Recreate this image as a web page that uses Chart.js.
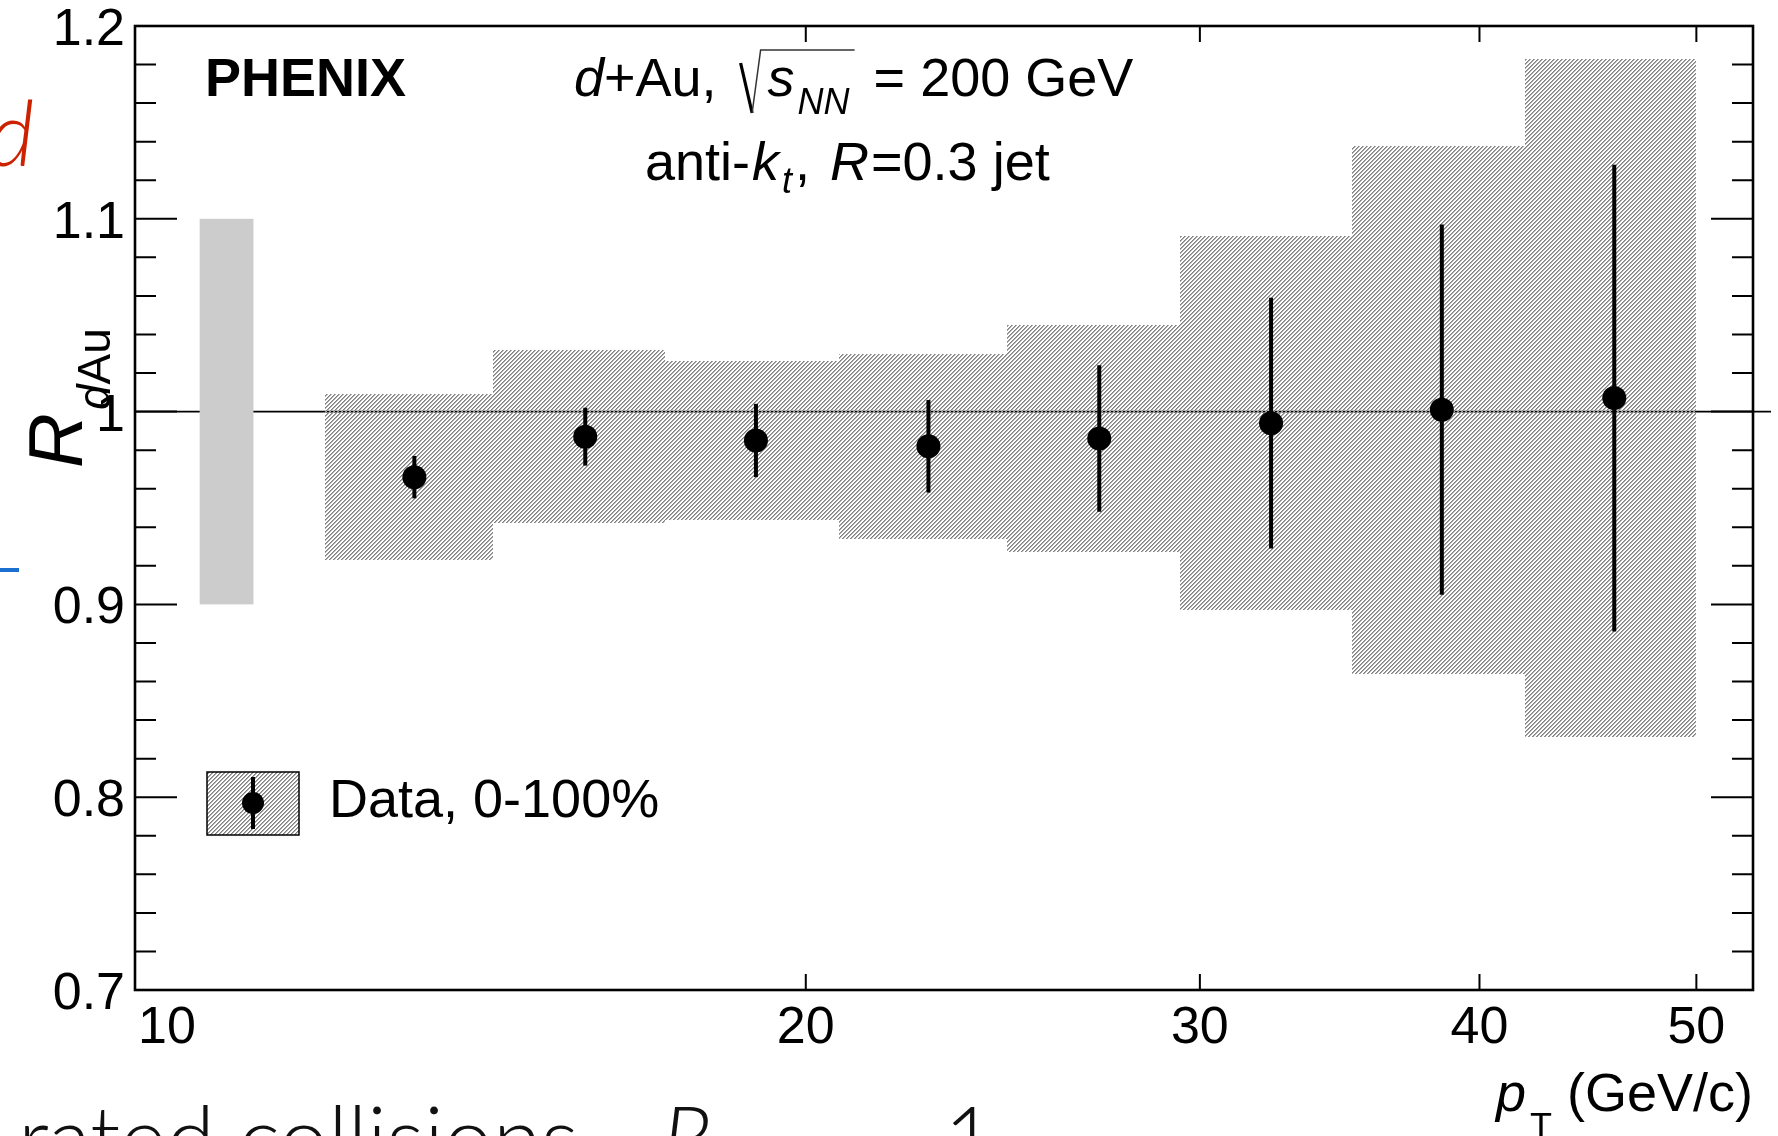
<!DOCTYPE html>
<html>
<head>
<meta charset="utf-8">
<script src="https://cdn.jsdelivr.net/npm/chart.js@4.4.1/dist/chart.umd.min.js"></script>
<style>
  html, body { margin: 0; padding: 0; background: #fff; }
  #wrap { width: 1778px; height: 1136px; position: relative; overflow: hidden; }
</style>
</head>
<body>
<div id="wrap"><canvas id="rdau" width="1778" height="1136"></canvas></div>
<script>
// PHENIX d+Au jet R_dAu, 0-100% centrality
const binEdges = [12.2, 14.5, 17.3, 20.7, 24.6, 29.4, 35.1, 41.9, 50.0];
const ptCenters = [13.37, 15.94, 19.0, 22.69, 27.05, 32.28, 38.48, 45.95];
const rdau = [0.966, 0.987, 0.985, 0.982, 0.986, 0.994, 1.001, 1.007];
const statErr = [0.011, 0.015, 0.019, 0.024, 0.038, 0.065, 0.096, 0.121];
const sysErr = [0.043, 0.045, 0.041, 0.048, 0.059, 0.097, 0.137, 0.176];

// global normalisation uncertainty box drawn at unity
const normBoxPt = [10.72, 11.33];
const normErr = 0.1;

const yMajor = [0.7, 0.8, 0.9, 1.0, 1.1, 1.2];
const yTickLabels = ["0.7", "0.8", "0.9", "1", "1.1", "1.2"];
const xMajor = [10, 20, 30, 40, 50];
const xTickLabels = ["10", "20", "30", "40", "50"];

const FONT = "'Liberation Sans', Arial, Helvetica, sans-serif";
const SLIDE_FONT = "Lato, 'Liberation Sans', sans-serif";

// diagonal "////" hatch, 4 px period, built pixel by pixel so it stays crisp
function makeHatch(ctx) {
  const c = document.createElement("canvas");
  c.width = 4;
  c.height = 4;
  const g = c.getContext("2d");
  const img = g.createImageData(4, 4);
  const shade = [128, 172, 250, 255];
  for (let y = 0; y < 4; y++) {
    for (let x = 0; x < 4; x++) {
      const v = shade[(x + y) % 4];
      const p = (y * 4 + x) * 4;
      img.data[p] = img.data[p + 1] = img.data[p + 2] = v;
      img.data[p + 3] = v >= 250 ? 0 : 255;
    }
  }
  g.putImageData(img, 0, 0);
  return ctx.createPattern(c, "repeat");
}

// draws a list of text runs left to right, returns end x
function drawRuns(ctx, x, y, runs) {
  runs.forEach((r) => {
    ctx.font = r.font;
    if (r.gap) x += r.gap;
    ctx.fillText(r.t, x, y + (r.dy || 0));
    x += ctx.measureText(r.t).width;
  });
  return x;
}

const backgroundPlugin = {
  id: "background",
  beforeDatasetsDraw(chart) {
    const { ctx, chartArea: a, scales } = chart;
    const xs = scales.x, ys = scales.y;
    const hatch = makeHatch(ctx);
    ctx.save();

    // unity line, runs a little past the right frame
    const y1 = ys.getPixelForValue(1.0);
    ctx.strokeStyle = "#000";
    ctx.lineWidth = 1.6;
    ctx.beginPath();
    ctx.moveTo(a.left, y1);
    ctx.lineTo(a.right + 18, y1);
    ctx.stroke();

    // normalisation box
    ctx.fillStyle = "#cccccc";
    const nx0 = xs.getPixelForValue(normBoxPt[0]);
    const nx1 = xs.getPixelForValue(normBoxPt[1]);
    const ny0 = ys.getPixelForValue(1 + normErr);
    const ny1 = ys.getPixelForValue(1 - normErr);
    ctx.fillRect(nx0, ny0, nx1 - nx0, ny1 - ny0);

    // systematic boxes
    ctx.fillStyle = hatch;
    rdau.forEach((v, i) => {
      const bx0 = Math.round(xs.getPixelForValue(binEdges[i]));
      const bx1 = Math.round(xs.getPixelForValue(binEdges[i + 1]));
      const by0 = Math.round(ys.getPixelForValue(v + sysErr[i]));
      const by1 = Math.round(ys.getPixelForValue(v - sysErr[i]));
      ctx.fillRect(bx0, by0, bx1 - bx0, by1 - by0);
    });

    // statistical error bars
    ctx.strokeStyle = "#000";
    ctx.lineWidth = 4;
    rdau.forEach((v, i) => {
      const px = xs.getPixelForValue(ptCenters[i]);
      ctx.beginPath();
      ctx.moveTo(px, ys.getPixelForValue(v + statErr[i]));
      ctx.lineTo(px, ys.getPixelForValue(v - statErr[i]));
      ctx.stroke();
    });
    ctx.restore();
  },
};

const framePlugin = {
  id: "frame",
  afterDraw(chart) {
    const { ctx, chartArea: a, scales } = chart;
    const xs = scales.x, ys = scales.y;
    ctx.save();
    ctx.strokeStyle = "#000";

    // y ticks, majors and minors, on both sides
    ctx.lineWidth = 2;
    for (let k = 0; k <= 25; k++) {
      const v = 0.7 + k * 0.02;
      const py = ys.getPixelForValue(v);
      const len = k % 5 === 0 ? 42 : 21;
      ctx.beginPath();
      ctx.moveTo(a.left, py);
      ctx.lineTo(a.left + len, py);
      ctx.moveTo(a.right, py);
      ctx.lineTo(a.right - len, py);
      ctx.stroke();
    }
    // x ticks, top and bottom
    xMajor.forEach((v) => {
      const px = xs.getPixelForValue(v);
      if (px < a.left || px > a.right) return;
      ctx.beginPath();
      ctx.moveTo(px, a.bottom);
      ctx.lineTo(px, a.bottom - 16);
      ctx.moveTo(px, a.top);
      ctx.lineTo(px, a.top + 16);
      ctx.stroke();
    });

    ctx.lineWidth = 2.6;
    ctx.strokeRect(a.left, a.top, a.right - a.left, a.bottom - a.top);

    // tick labels
    ctx.fillStyle = "#000";
    ctx.font = "52px " + FONT;
    ctx.textAlign = "right";
    yMajor.forEach((v, i) => {
      ctx.fillText(yTickLabels[i], a.left - 10, ys.getPixelForValue(v) + 19);
    });
    ctx.textAlign = "left";
    xMajor.forEach((v, i) => {
      const w = ctx.measureText(xTickLabels[i]).width;
      let lx = xs.getPixelForValue(v) - w / 2;
      if (lx < a.left) lx = a.left + 3;
      ctx.fillText(xTickLabels[i], lx, a.bottom + 53);
    });

    // x axis title
    ctx.font = "54px " + FONT;
    const gw = ctx.measureText(" (GeV/c)").width;
    ctx.font = "36px " + FONT;
    const tw = ctx.measureText("T").width;
    ctx.font = "italic 54px " + FONT;
    const pw = ctx.measureText("p").width;
    const tx = a.right - gw - tw - pw - 4;
    drawRuns(ctx, tx, 1111, [
      { t: "p", font: "italic 54px " + FONT },
      { t: "T", font: "36px " + FONT, dy: 28, gap: 4 },
      { t: " (GeV/c)", font: "54px " + FONT },
    ]);

    // y axis title, rotated
    ctx.save();
    ctx.translate(82, 468);
    ctx.rotate(-Math.PI / 2);
    drawRuns(ctx, 0, 0, [
      { t: "R", font: "italic 76px " + FONT },
      { t: "d", font: "italic 46px " + FONT, dy: 28, gap: 3 },
      { t: "Au", font: "46px " + FONT, dy: 28 },
    ]);
    ctx.restore();

    // experiment and system labels
    ctx.font = "bold 54px " + FONT;
    ctx.fillText("PHENIX", 205, 96);

    let x = drawRuns(ctx, 574, 96, [
      { t: "d", font: "italic 54px " + FONT },
      { t: "+Au,", font: "54px " + FONT },
    ]);
    // square root sign over s_NN
    const sx = x + 24;
    ctx.lineCap = "butt";
    ctx.lineWidth = 3.2;
    ctx.beginPath();
    ctx.moveTo(sx, 63);
    ctx.lineTo(sx + 11.5, 113);
    ctx.stroke();
    ctx.lineWidth = 1.5;
    ctx.strokeStyle = "#333";
    ctx.beginPath();
    ctx.moveTo(sx + 11.5, 113);
    ctx.lineTo(sx + 20, 50);
    x = drawRuns(ctx, sx + 27, 96, [
      { t: "s", font: "italic 54px " + FONT },
      { t: "NN", font: "italic 36px " + FONT, dy: 18, gap: 3 },
    ]);
    ctx.lineTo(x + 5, 50);
    ctx.stroke();
    drawRuns(ctx, x + 9, 96, [{ t: " = 200 GeV", font: "54px " + FONT }]);

    drawRuns(ctx, 645, 180, [
      { t: "anti-", font: "54px " + FONT },
      { t: "k", font: "italic 54px " + FONT, gap: 2 },
      { t: "t", font: "italic 36px " + FONT, dy: 13, gap: 3 },
      { t: ",", font: "54px " + FONT, gap: 3 },
      { t: "R", font: "italic 54px " + FONT, gap: 20 },
      { t: "=0.3 jet", font: "54px " + FONT, gap: 2 },
    ]);

    // legend
    ctx.fillStyle = makeHatch(ctx);
    ctx.fillRect(207, 772, 92, 63);
    ctx.strokeStyle = "#000";
    ctx.lineWidth = 1.5;
    ctx.strokeRect(207, 772, 92, 63);
    ctx.lineWidth = 4;
    ctx.beginPath();
    ctx.moveTo(253, 777);
    ctx.lineTo(253, 829);
    ctx.stroke();
    ctx.fillStyle = "#000";
    ctx.beginPath();
    ctx.arc(253, 803, 11, 0, Math.PI * 2);
    ctx.fill();
    ctx.font = "54px " + FONT;
    ctx.fillText("Data, 0-100%", 329, 817);

    // slide text around the figure
    ctx.fillStyle = "#cc2200";
    ctx.font = "italic 300 90px " + SLIDE_FONT;
    ctx.fillText("d", -12, 166);
    ctx.fillStyle = "#1a6fd0";
    ctx.fillRect(0, 568, 19, 4);
    ctx.fillStyle = "#111";
    ctx.font = "300 88px " + SLIDE_FONT;
    ctx.textAlign = "right";
    ctx.fillText("rated collisions,", 598, 1170);
    ctx.textAlign = "left";
    ctx.font = "italic 300 88px " + SLIDE_FONT;
    ctx.fillText("R", 662, 1170);
    ctx.font = "300 88px " + SLIDE_FONT;
    ctx.fillText("1", 944, 1170);
    ctx.restore();
  },
};

const chart = new Chart(document.getElementById("rdau").getContext("2d"), {
  type: "scatter",
  data: {
    datasets: [
      {
        label: "Data, 0-100%",
        data: ptCenters.map((x, i) => ({ x, y: rdau[i] })),
        backgroundColor: "#000",
        borderWidth: 0,
        pointRadius: 12,
        pointHoverRadius: 12,
      },
    ],
  },
  options: {
    responsive: false,
    animation: false,
    devicePixelRatio: 1,
    layout: { padding: { left: 135, top: 26, right: 25, bottom: 146 } },
    scales: {
      x: { type: "logarithmic", min: 10.03, max: 53, display: false },
      y: { type: "linear", min: 0.7, max: 1.2, display: false },
    },
    plugins: {
      legend: { display: false },
      tooltip: { enabled: false },
    },
  },
  plugins: [backgroundPlugin, framePlugin],
});
</script>
</body>
</html>
